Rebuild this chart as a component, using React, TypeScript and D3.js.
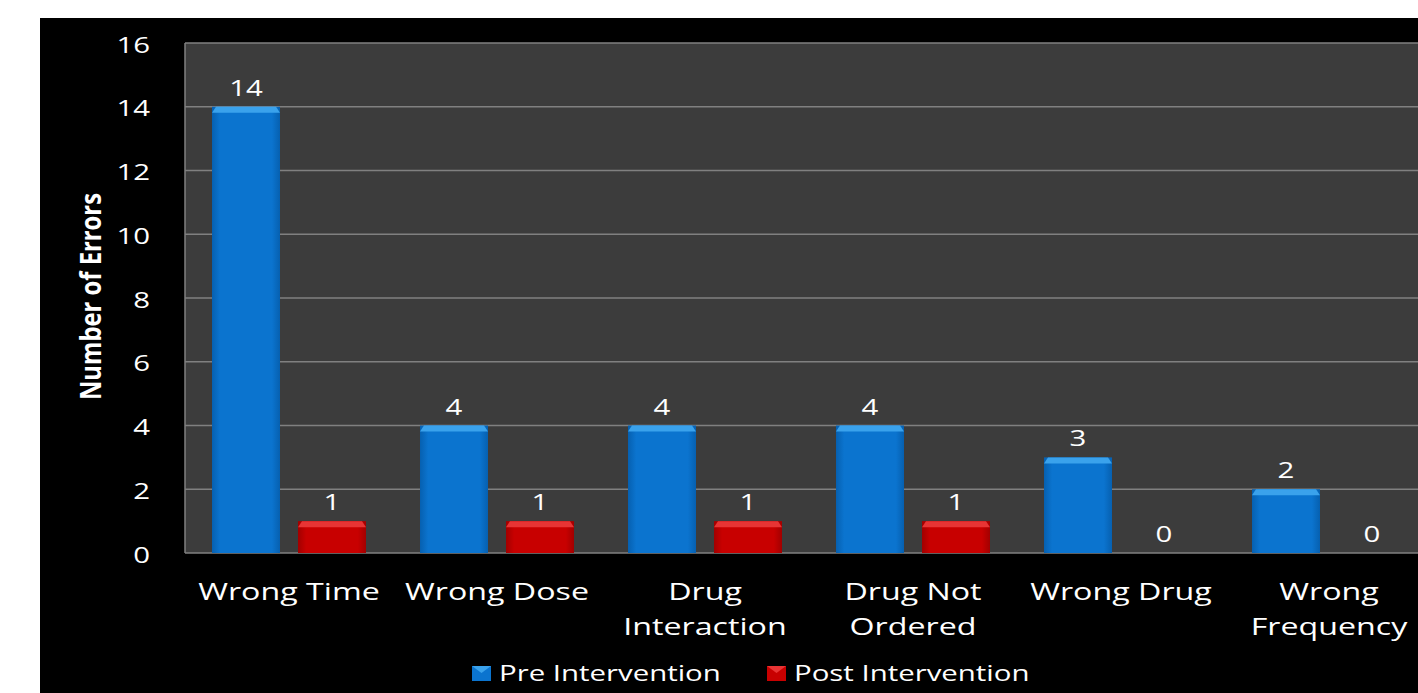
import React from "react";
import * as d3 from "d3";

const categories: string[][] = [
  ["Wrong Time"],
  ["Wrong Dose"],
  ["Drug", "Interaction"],
  ["Drug Not", "Ordered"],
  ["Wrong Drug"],
  ["Wrong", "Frequency"],
];
const seriesNames = ["Pre Intervention", "Post Intervention"];
const preValues = [14, 4, 4, 4, 3, 2];
const postValues = [1, 1, 1, 1, 0, 0];
const yTicks = [0, 2, 4, 6, 8, 10, 12, 14, 16];
const yTitle = "Number of Errors";

const W = 1418;
const H = 693;
const FONT = "'Open Sans', 'Noto Sans', sans-serif";
const SX = 1.4;

const colors = [
  { main: "#0B74CF", edge: "#0660B0", top: "#3AA2EC" },
  { main: "#C80000", edge: "#A20000", top: "#E83434" },
];

const STX = (props: {
  x: number;
  y: number;
  size: number;
  anchor?: "start" | "middle" | "end";
  children: React.ReactNode;
  weight?: number;
}) => (
  <text
    transform={`translate(${props.x},${props.y}) scale(${SX},1)`}
    textAnchor={props.anchor || "middle"}
    fontSize={props.size}
    fontFamily={FONT}
    fontWeight={props.weight || 400}
    fill="#FFFFFF"
  >
    {props.children}
  </text>
);

export default function App() {
  const plotL = 185;
  const plotT = 43;
  const plotB = 553;
  const groupW = 208;
  const x0 = d3
    .scaleBand<number>()
    .domain(d3.range(categories.length))
    .range([plotL, plotL + groupW * categories.length])
    .paddingInner(0)
    .paddingOuter(0);
  const x1 = d3
    .scaleBand<number>()
    .domain([0, 1])
    .range([0, x0.bandwidth()])
    .paddingInner(18 / 86)
    .paddingOuter(0.314);
  const y = d3.scaleLinear().domain([0, 16]).range([plotB, plotT]);

  const data = [preValues, postValues];

  return (
    <svg
      width={W}
      height={H}
      style={{ position: "absolute", left: 0, top: 0, display: "block" }}
    >
      <defs>
        {colors.map((c, i) => (
          <linearGradient key={i} id={`g${i}`} x1="0" x2="1" y1="0" y2="0">
            <stop offset="0" stopColor={c.edge} />
            <stop offset="0.12" stopColor={c.main} />
            <stop offset="0.88" stopColor={c.main} />
            <stop offset="1" stopColor={c.edge} />
          </linearGradient>
        ))}
      </defs>
      <rect x={0} y={0} width={W} height={H} fill="#FFFFFF" />
      <rect x={40} y={18} width={W - 40} height={H - 18} fill="#000000" />
      <rect
        x={plotL}
        y={plotT}
        width={W - plotL}
        height={plotB - plotT}
        fill="#3C3C3C"
      />
      {yTicks.map((t) => (
        <line
          key={t}
          x1={plotL}
          x2={W}
          y1={y(t)}
          y2={y(t)}
          stroke="#808080"
          strokeWidth={1.5}
        />
      ))}
      <line x1={plotL} x2={plotL} y1={plotT} y2={plotB} stroke="#808080" strokeWidth={1.5} />
      {yTicks.map((t) => (
        <STX key={t} x={150} y={y(t) + 9.5} size={21} anchor="end">
          {t}
        </STX>
      ))}
      <text
        transform={`translate(101,296.5) scale(${SX},1) rotate(-90)`}
        textAnchor="middle"
        fontSize={21}
        fontWeight={700}
        fontFamily={FONT}
        fill="#FFFFFF"
        textLength={207}
        lengthAdjust="spacingAndGlyphs"
      >
        {yTitle}
      </text>
      {data.map((vals, si) =>
        vals.map((v, ci) => {
          const bx = (x0(ci) as number) + (x1(si) as number);
          const bw = x1.bandwidth();
          const top = y(v);
          const h = plotB - top;
          const c = colors[si];
          return (
            <g key={`${si}-${ci}`}>
              {h > 0 && (
                <>
                  <rect x={bx} y={top} width={bw} height={h} fill={`url(#g${si})`} />
                  <path
                    d={`M${bx},${top + 6} L${bx + 4},${top} L${bx + bw - 4},${top} L${bx + bw},${top + 6} Z`}
                    fill={c.top}
                  />
                </>
              )}
              <STX x={bx + bw / 2} y={top - 11} size={21}>
                {v}
              </STX>
            </g>
          );
        })
      )}
      {categories.map((lines, ci) => {
        const cx = (x0(ci) as number) + x0.bandwidth() / 2;
        return lines.map((ln, li) => (
          <STX key={`${ci}-${li}`} x={cx} y={600 + li * 35} size={23}>
            {ln}
          </STX>
        ));
      })}
      {seriesNames.map((s, i) => {
        const lx = i === 0 ? 472 : 767;
        const c = colors[i];
        return (
          <g key={s}>
            <rect x={lx} y={666} width={19} height={15} fill={c.main} />
            <path d={`M${lx},${666} L${lx + 19},${666} L${lx + 9.5},${673} Z`} fill={c.top} />
            <STX x={lx + 27} y={681} size={21} anchor="start">
              {s}
            </STX>
          </g>
        );
      })}
    </svg>
  );
}
